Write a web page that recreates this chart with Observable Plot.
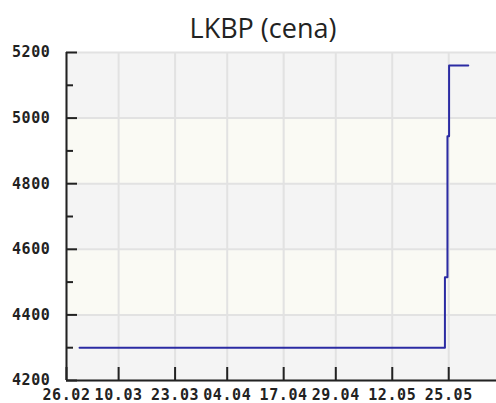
<!DOCTYPE html>
<html><head><meta charset="utf-8">
<script src="https://cdn.jsdelivr.net/npm/d3@7"></script>
<script src="https://cdn.jsdelivr.net/npm/@observablehq/plot@0.6"></script>
<style>
body{margin:0;background:#fff}
svg{display:block;overflow:visible}
g[aria-label="y-axis tick label"] text, g[aria-label="x-axis tick label"] text{letter-spacing:0.6px}
</style>
</head><body><div id="chart"></div>
<script>
const title = "LKBP (cena)";
const dates = ["2010-03-01T00:00Z","2010-05-24T03:00Z","2010-05-24T17:00Z","2010-05-25T02:00Z","2010-05-29T12:00Z"];
const prices = [4300, 4515, 4945, 5160, 5160];
const xTickDates = ["2010-02-26","2010-03-10","2010-03-23","2010-04-04","2010-04-17","2010-04-29","2010-05-12","2010-05-25"];
const yTicks = [4200, 4400, 4600, 4800, 5000, 5200];
const yMinorTicks = [4300, 4500, 4700, 4900, 5100];
const bandLow = [4200, 4400, 4600, 4800, 5000];
const bandHigh = [4400, 4600, 4800, 5000, 5200];
const bandFill = ["#f4f4f4", "#fafaf4", "#f4f4f4", "#fafaf4", "#f4f4f4"];
const xDomain = ["2010-02-26", "2010-06-05"];

const parse = s => new Date(s.length === 10 ? s + "T00:00Z" : s);
const data = dates.map((d, i) => ({date: parse(d), price: prices[i]}));
const xt = xTickDates.map(parse);
const bands = bandLow.map((lo, i) => ({lo, hi: bandHigh[i], fill: bandFill[i]}));
const fmt = d3.utcFormat("%d.%m");
const tickFont = {fontFamily: "DejaVu Sans Mono", fontSize: 15, fontWeight: "bold"};

const chart = Plot.plot({
  width: 496,
  height: 403,
  marginLeft: 66,
  marginRight: 0,
  marginTop: 52,
  marginBottom: 23,
  style: {background: "#fff", color: "#222", fontFamily: "DejaVu Sans Mono"},
  x: {type: "utc", domain: xDomain.map(parse), label: null},
  y: {domain: [4200, 5200], label: null},
  color: {type: "identity"},
  marks: [
    Plot.rect(bands, {y1: "lo", y2: "hi", fill: "fill"}),
    Plot.ruleY(yTicks, {stroke: "#e2e2e2", strokeWidth: 2}),
    Plot.ruleX(xt, {stroke: "#e2e2e2", strokeWidth: 2}),
    Plot.line(data, {x: "date", y: "price", curve: "step-after", stroke: "#2b2ba3", strokeWidth: 2}),
    Plot.ruleY([4200], {stroke: "#222", strokeWidth: 2}),
    Plot.ruleX([parse(xDomain[0])], {stroke: "#222", strokeWidth: 2}),
    Plot.axisY(yTicks, {tickSize: 11, dx: 11, strokeWidth: 2, stroke: "#222", fill: "none", label: null}),
    Plot.axisY(yMinorTicks, {tickSize: 7, dx: 7, strokeWidth: 2, stroke: "#222", fill: "none", label: null}),
    Plot.axisY(yTicks, {tickSize: 0, tickPadding: 16, tickFormat: d3.format("d"), ...tickFont, fill: "#222", label: null}),
    Plot.axisX(xt, {tickSize: 13, dy: -13, strokeWidth: 2, stroke: "#222", fill: "none", label: null}),
    Plot.axisX(xt, {tickSize: 0, tickPadding: 9, tickFormat: fmt, ...tickFont, fill: "#222", label: null}),
    Plot.text([title], {frameAnchor: "top", dx: -18.5, dy: -34, text: d => d, fontFamily: "Open Sans", fontSize: 27, fill: "#222"})
  ]
});
document.getElementById("chart").appendChild(chart);
</script>
</body></html>
